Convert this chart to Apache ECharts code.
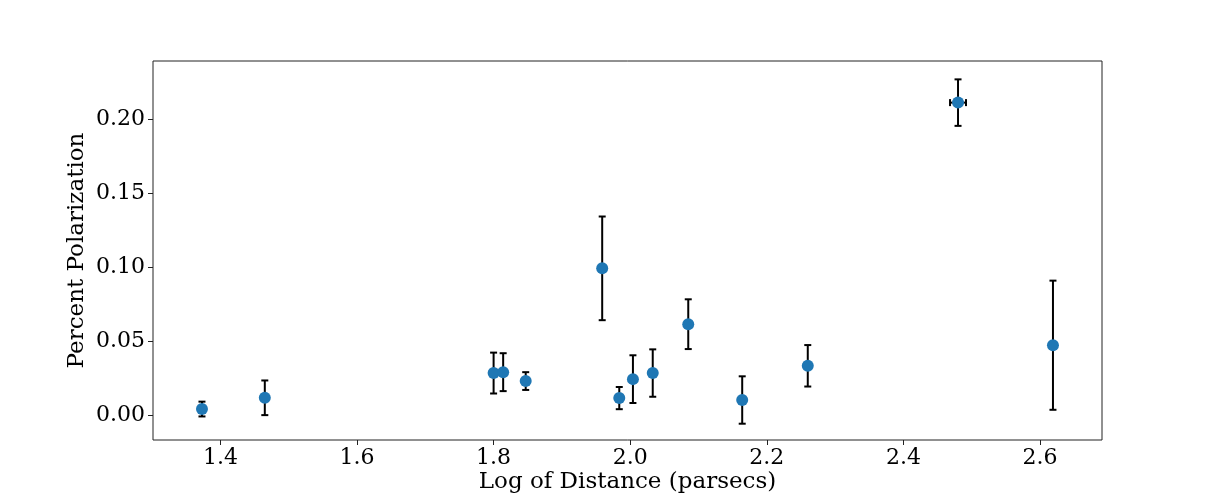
<!DOCTYPE html>
<html>
<head>
<meta charset="utf-8">
<script src="https://cdn.jsdelivr.net/npm/echarts@6/dist/echarts.min.js"></script>
<style>
  html, body { margin: 0; padding: 0; background: #fff; }
  #chart { width: 1224px; height: 504px; }
</style>
</head>
<body>
<div id="chart"></div>
<script>
// log distance (parsecs) and percent polarization
var logDist = [1.373, 1.465, 1.800, 1.814, 1.847, 1.959, 1.984, 2.004, 2.033, 2.085, 2.164, 2.260, 2.480, 2.619];
var polar   = [0.0045, 0.0121, 0.0288, 0.0294, 0.0234, 0.0995, 0.0119, 0.0247, 0.0288, 0.0618, 0.0106, 0.0337, 0.2114, 0.0476];
var polarErr = [0.0050, 0.0117, 0.0138, 0.0128, 0.0060, 0.0350, 0.0075, 0.0161, 0.0160, 0.0168, 0.0160, 0.0140, 0.0157, 0.0436];
var distErr  = [0, 0, 0, 0, 0, 0, 0, 0, 0, 0, 0, 0, 0.0117, 0];

var xTicks = [1.4, 1.6, 1.8, 2.0, 2.2, 2.4, 2.6];
var yTicks = [0.00, 0.05, 0.10, 0.15, 0.20];

var points = logDist.map(function (x, i) { return [x, polar[i]]; });
var bars = logDist.map(function (x, i) { return [x, polar[i], polarErr[i], distErr[i]]; });

var font = 'DejaVu Serif';

var myChart = echarts.init(document.getElementById('chart'));

var option = {
  backgroundColor: '#fff',
  animation: false,
  grid: {
    left: 153, right: 122, top: 61, bottom: 64,
    show: true, borderColor: '#222', borderWidth: 1
  },
  xAxis: {
    type: 'value',
    min: 1.3013, max: 2.6908,
    name: 'Log of Distance (parsecs)',
    nameLocation: 'middle',
    nameGap: 31,
    nameMoveOverlap: false,
    nameTextStyle: { fontFamily: font, fontSize: 23, color: '#000' },
    axisLine: { show: false, onZero: false },
    splitLine: { show: false },
    axisTick: { show: true, length: 5, lineStyle: { color: '#222' }, customValues: xTicks },
    axisLabel: {
      fontFamily: font, fontSize: 22, color: '#000', margin: 7,
      customValues: xTicks,
      formatter: function (v) { return v.toFixed(1); }
    }
  },
  yAxis: {
    type: 'value',
    min: -0.0164, max: 0.2395,
    name: 'Percent Polarization',
    nameLocation: 'middle',
    nameRotate: 90,
    nameGap: 64,
    nameMoveOverlap: false,
    nameTextStyle: { fontFamily: font, fontSize: 23, color: '#000' },
    axisLine: { show: false, onZero: false },
    splitLine: { show: false },
    axisTick: { show: true, length: 5, lineStyle: { color: '#222' }, customValues: yTicks },
    axisLabel: {
      fontFamily: font, fontSize: 22, color: '#000', margin: 8,
      customValues: yTicks,
      formatter: function (v) { return v.toFixed(2); }
    }
  },
  series: [
    {
      // error bars
      type: 'custom',
      z: 1,
      data: bars,
      renderItem: function (params, api) {
        var x = api.value(0), y = api.value(1), ey = api.value(2), ex = api.value(3);
        var top = api.coord([x, y + ey]);
        var bot = api.coord([x, y - ey]);
        var cap = 3.5;
        var style = { stroke: '#000', lineWidth: 2 };
        var kids = [
          { type: 'line', shape: { x1: top[0], y1: top[1], x2: bot[0], y2: bot[1] }, style: style },
          { type: 'line', shape: { x1: top[0] - cap, y1: top[1], x2: top[0] + cap, y2: top[1] }, style: style },
          { type: 'line', shape: { x1: bot[0] - cap, y1: bot[1], x2: bot[0] + cap, y2: bot[1] }, style: style }
        ];
        if (ex > 0) {
          var l = api.coord([x - ex, y]);
          var r = api.coord([x + ex, y]);
          kids.push({ type: 'line', shape: { x1: l[0], y1: l[1], x2: r[0], y2: r[1] }, style: style });
          kids.push({ type: 'line', shape: { x1: l[0], y1: l[1] - cap, x2: l[0], y2: l[1] + cap }, style: style });
          kids.push({ type: 'line', shape: { x1: r[0], y1: r[1] - cap, x2: r[0], y2: r[1] + cap }, style: style });
        }
        return { type: 'group', children: kids };
      }
    },
    {
      type: 'scatter',
      z: 2,
      data: points,
      symbolSize: 12,
      itemStyle: { color: '#1f77b4', opacity: 1 }
    }
  ]
};

myChart.setOption(option);
</script>
</body>
</html>
